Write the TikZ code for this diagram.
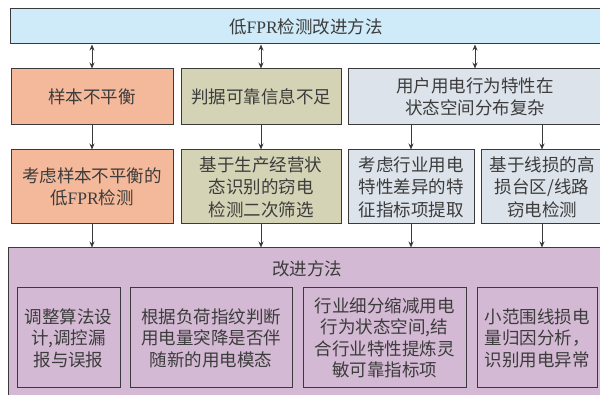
\documentclass[tikz,border=0pt]{standalone}
\usepackage{fontspec}
\setmainfont{Noto Sans CJK SC}
\newfontfamily\lat{Liberation Serif}
\usetikzlibrary{arrows.meta}
\definecolor{cblue}{HTML}{CFEAF8}
\definecolor{corange}{HTML}{F4B99A}
\definecolor{colive}{HTML}{D5D3B5}
\definecolor{cgrey}{HTML}{DCE3EA}
\definecolor{cpurple}{HTML}{D3B9D3}
\definecolor{cline}{HTML}{3A3A3A}
\definecolor{ctext}{HTML}{3C3C3C}
\tikzset{
  box/.style={draw=cline, line width=1pt, rectangle, inner sep=0pt, align=center, text=ctext,
    font=\fontsize{17.5}{22.5}\selectfont},
  inbox/.style={box, font=\fontsize{17.5}{21.5}\selectfont},
  arr/.style={draw=cline, line width=0.9pt, -{Stealth[length=6pt,width=5pt]}},
  darr/.style={draw=cline, line width=0.9pt, {Stealth[length=6pt,width=5pt]}-{Stealth[length=6pt,width=5pt]}}
}
\begin{document}
\begin{tikzpicture}[x=1pt,y=-1pt]
\useasboundingbox (0,0) rectangle (600,395);
\clip (0,0) rectangle (600,395);
\fill[white] (0,0) rectangle (600,395);
% top
\node[box, fill=cblue, minimum width=591pt, minimum height=35pt] (top) at (306,26.5) {低{\lat FPR}检测改进方法};
% row 2
\node[box, fill=corange, minimum width=162pt, minimum height=56pt] (r2a) at (92,97) {样本不平衡};
\node[box, fill=colive, minimum width=160pt, minimum height=56pt] (r2b) at (261,97) {判据可靠信息不足};
\node[box, fill=cgrey, minimum width=254pt, minimum height=56pt] (r2c) at (475,97) {用户用电行为特性在\\状态空间分布复杂};
% row 3
\node[box, fill=corange, minimum width=162pt, minimum height=74pt] (r3a) at (92,187) {考虑样本不平衡的\\低{\lat FPR}检测};
\node[box, fill=colive, minimum width=160pt, minimum height=74pt] (r3b) at (261,187) {基于生产经营状\\态识别的窃电\\检测二次筛选};
\node[box, fill=cgrey, minimum width=126pt, minimum height=74pt] (r3c) at (411,187) {考虑行业用电\\特性差异的特\\征指标项提取};
\node[box, fill=cgrey, minimum width=122pt, minimum height=74pt] (r3d) at (542,187) {基于线损的高\\损台区/线路\\窃电检测};
% purple container
\node[box, fill=cpurple, minimum width=596pt, minimum height=160pt] (pur) at (306,328) {};
\node[text=ctext, font=\fontsize{17.5}{21}\selectfont, inner sep=0pt] (purt) at (307,269) {改进方法};
\node[inbox, minimum width=103pt, minimum height=100pt] (b1) at (68.5,338) {调整算法设\\计,调控漏\\报与误报};
\node[inbox, minimum width=162pt, minimum height=100pt] (b2) at (211,338) {根据负荷指纹判断\\用电量突降是否伴\\随新的用电模态};
\node[inbox, minimum width=163pt, minimum height=100pt] (b3) at (384.5,338) {行业细分缩减用电\\行为状态空间,结\\合行业特性提炼灵\\敏可靠指标项};
\node[inbox, minimum width=120pt, minimum height=100pt] (b4) at (537,338) {小范围线损电\\量归因分析，\\识别用电异常};
% arrows top <-> row2
\draw[darr] (r2a.north |- top.south) -- (r2a.north);
\draw[darr] (r2b.north |- top.south) -- (r2b.north);
\draw[darr] (r2c.north |- top.south) -- (r2c.north);
% row2 -> row3
\draw[arr] (r2a.south) -- (r3a.north);
\draw[arr] (r2b.south) -- (r3b.north);
\draw[arr] (r3c.north |- r2c.south) -- (r3c.north);
\draw[arr] (r3d.north |- r2c.south) -- (r3d.north);
% row3 -> purple
\draw[arr] (r3a.south) -- (r3a.south |- pur.north);
\draw[arr] (r3b.south) -- (r3b.south |- pur.north);
\draw[arr] (r3c.south) -- (r3c.south |- pur.north);
\draw[arr] (r3d.south) -- (r3d.south |- pur.north);
\end{tikzpicture}
\end{document}
